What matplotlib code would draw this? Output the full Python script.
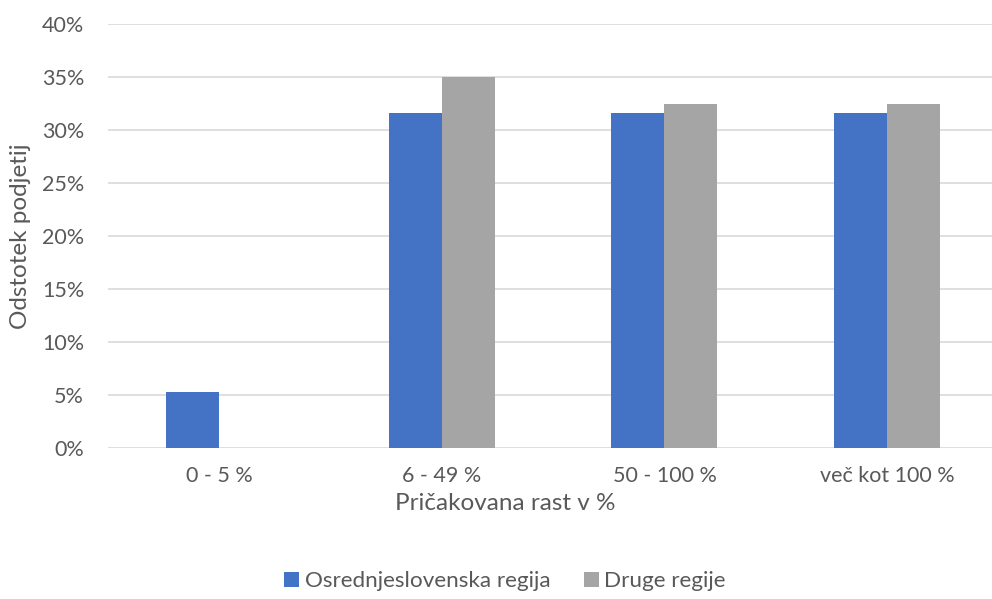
import matplotlib.pyplot as plt
import numpy as np
from matplotlib.ticker import PercentFormatter

# data
categories = ['0 - 5 %', '6 - 49 %', '50 - 100 %', 'več kot 100 %']
osrednja = [5.26, 31.58, 31.58, 31.58]
druge = [0.0, 35.0, 32.5, 32.5]
series_names = ['Osrednjeslovenska regija', 'Druge regije']

plt.rcParams['font.family'] = ['Lato', 'DejaVu Sans']
txt_col = '#595959'

fig = plt.figure(figsize=(9.92, 5.99), dpi=100)
ax = fig.add_axes([0.1086, 0.2529, 0.898, 0.7065])

x = np.arange(len(categories))
w = 0.238
b1 = ax.bar(x - w / 2, osrednja, w, color='#4472C4', zorder=3,
            label=series_names[0])
b2 = ax.bar(x + w / 2, druge, w, color='#A5A5A5', zorder=3,
            label=series_names[1])

ax.set_xlim(-0.5, len(categories) - 0.5)
ax.set_ylim(0, 40)
ax.set_yticks(np.arange(0, 41, 5))
ax.yaxis.set_major_formatter(PercentFormatter(decimals=0))
ax.set_xticks(x)
ax.set_xticklabels(categories)
ax.tick_params(axis='both', length=0, labelsize=15.5, labelcolor=txt_col)
ax.tick_params(axis='x', pad=13)
ax.tick_params(axis='y', pad=17)
ax.grid(axis='y', color='#d9d9d9', linewidth=1.2, zorder=0)
for s in ax.spines.values():
    s.set_visible(False)

ax.set_ylabel('Odstotek podjetij', fontsize=17.5, color=txt_col, labelpad=8)
fig.text(505 / 992, 1 - 504 / 599, 'Pričakovana rast v %', fontsize=17.5,
         color=txt_col, ha='center', va='center')

fig.legend(handles=[b1, b2], labels=series_names, loc='center',
           bbox_to_anchor=(505 / 992, 1 - 581 / 599), ncol=2, frameon=False,
           fontsize=16.2, labelcolor=txt_col, handlelength=0.65,
           handleheight=0.65, handletextpad=0.25, columnspacing=1.5)

fig.savefig('out.png', dpi=100)
